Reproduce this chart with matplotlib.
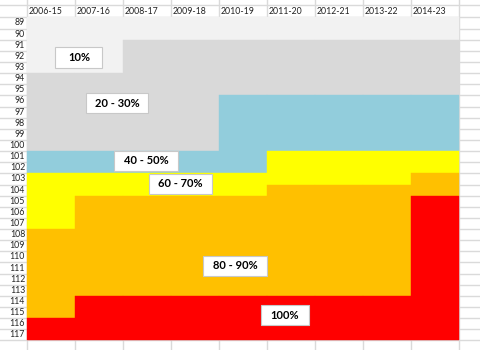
# plot.py
import matplotlib.pyplot as plt
from matplotlib.patches import Rectangle

# spreadsheet-style band chart: each column is a year range,
# each band fills rows down to its last row

years = ['2006-15', '2007-16', '2008-17', '2009-18', '2010-19',
         '2011-20', '2012-21', '2013-22', '2014-23']
first_row = 89
last_row = 117

band_names = ['10%', '20 - 30%', '40 - 50%', '60 - 70%', '80 - 90%', '100%']
band_colors = ['#F2F2F2', '#D9D9D9', '#92CDDC', '#FFFF00', '#FFC000', '#FF0000']

# last row of each band, per column
ten_end = [93, 93, 90, 90, 90, 90, 90, 90, 90]
twenty_end = [100, 100, 100, 100, 95, 95, 95, 95, 95]
forty_end = [102, 102, 102, 102, 102, 100, 100, 100, 100]
sixty_end = [107, 104, 104, 104, 104, 103, 103, 103, 102]
eighty_end = [115, 113, 113, 113, 113, 113, 113, 113, 104]
hundred_end = [117] * 9
band_ends = [ten_end, twenty_end, forty_end, sixty_end, eighty_end, hundred_end]

# label box centres (column, row) and widths (columns)
label_x = [1.08, 1.875, 2.48, 3.19, 4.33, 5.375]
label_y = [92.1, 96.2, 101.35, 103.45, 110.8, 115.25]
label_w = [0.98, 1.31, 1.35, 1.31, 1.33, 0.98]

plt.rcParams['font.family'] = ['Lato', 'DejaVu Sans']

fig = plt.figure(figsize=(4.8, 3.5), dpi=100)
ax = fig.add_axes([0, 0, 1, 1])

row_px = 11.14
col_px = 48.0
x_left = -27 / col_px
x_right = (480 - 27) / col_px
y_top = first_row - 0.5 - 17.4 / row_px
y_bottom = first_row - 0.5 + (350 - 17.4) / row_px
ax.set_xlim(x_left, x_right)
ax.set_ylim(y_bottom, y_top)
ax.axis('off')

grid_col = '#DADADA'
# sheet gridlines
header_line = first_row - 0.5 - 12.4 / row_px
for r in range(first_row - 1, last_row + 2):
    ax.plot([x_left, x_right], [r + 0.5, r + 0.5], color=grid_col, lw=1.0, zorder=0)
ax.plot([x_left, x_right], [header_line, header_line], color=grid_col, lw=1.0, zorder=0)
for c in range(0, len(years) + 1):
    ax.plot([c, c], [y_top, y_bottom], color=grid_col, lw=1.0, zorder=0)

# bands
x = list(range(len(years)))
prev_end = [first_row - 1] * len(years)
for name, color, ends in zip(band_names, band_colors, band_ends):
    bottoms = [p + 0.5 for p in prev_end]
    heights = [e - p for e, p in zip(ends, prev_end)]
    ax.bar(x, heights, bottom=bottoms, width=1, align='edge',
           color=color, edgecolor=color, lw=0.3, zorder=2)
    prev_end = ends

# header text and row numbers
for i, yr in enumerate(years):
    ax.text(i + 0.04, (header_line + first_row - 0.5) / 2, yr,
            fontsize=6.3, ha='left', va='center', color='#222222')
for r in range(first_row, last_row + 1):
    ax.text(-0.04, r, str(r), fontsize=6.3, ha='right', va='center', color='#222222')

# band labels
box_h = 1.8
for name, lx, ly, lw in zip(band_names, label_x, label_y, label_w):
    ax.add_patch(Rectangle((lx - lw / 2, ly - box_h / 2), lw, box_h,
                           facecolor='white', edgecolor='#C8C8C8', lw=0.8, zorder=3))
    ax.text(lx, ly, name, fontsize=8, fontweight='bold', ha='center', va='center',
            color='black', zorder=4)

plt.savefig('out.png', dpi=100)
